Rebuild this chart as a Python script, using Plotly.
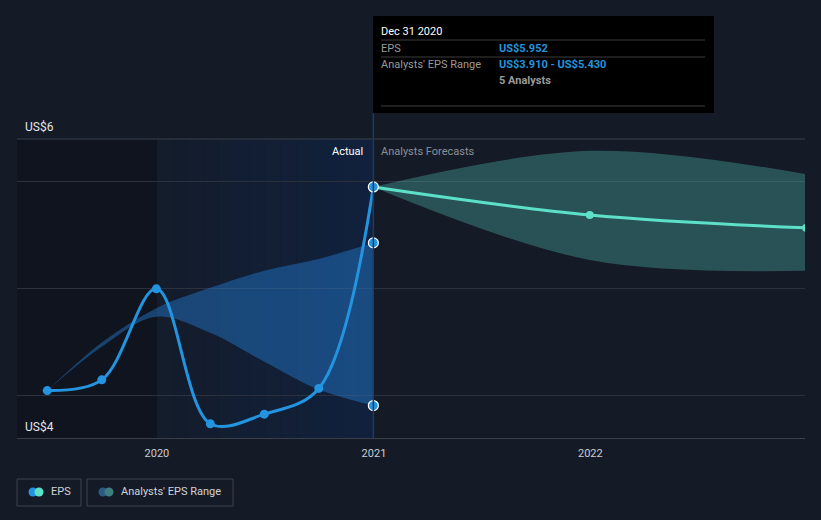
import plotly.graph_objects as go
import pandas as pd

# ---- data ----
eps_dates = ["2019-06-30", "2019-09-30", "2019-12-31", "2020-03-31", "2020-06-30", "2020-09-30", "2020-12-31"]
eps_values = [4.05, 4.15, 5.00, 3.74, 3.83, 4.07, 5.952]

fc_dates = ["2020-12-31", "2021-12-31", "2022-12-31"]
fc_eps = [5.952, 5.69, 5.57]
fc_high = [5.952, 6.29, 6.07]
fc_low = [5.952, 5.27, 5.17]

hist_range_dates = ["2019-06-30", "2019-09-30", "2019-12-31", "2020-03-31", "2020-06-30", "2020-09-30", "2020-12-31"]
hist_high = [4.05, 4.50, 4.82, 5.01, 5.17, 5.28, 5.43]
hist_low = [4.05, 4.46, 4.74, 4.59, 4.32, 4.06, 3.91]

tick_vals = ["2020-01-01", "2021-01-01", "2022-01-01"]
tick_text = ["2020", "2021", "2022"]

BG = "#151b26"
BLUE = "#2394df"
TEAL = "#5de0c8"
FONT = "Roboto"

L, R, T, B = 17, 805, 139, 438
def px(x):
    return (x - L) / (R - L)
def py(y):
    return (B - y) / (B - T)

fig = go.Figure()

# historical analysts range band
fig.add_trace(go.Scatter(x=hist_range_dates, y=hist_high, mode="lines", line=dict(width=0, shape="spline"),
                         hoverinfo="skip", showlegend=False))
fig.add_trace(go.Scatter(x=hist_range_dates, y=hist_low, mode="lines", line=dict(width=0, shape="spline"),
                         fill="tonexty", fillcolor="rgba(35,125,210,0.45)", hoverinfo="skip", showlegend=False))
# forecast band
fig.add_trace(go.Scatter(x=fc_dates, y=fc_high, mode="lines", line=dict(width=0, shape="spline"),
                         hoverinfo="skip", showlegend=False))
fig.add_trace(go.Scatter(x=fc_dates, y=fc_low, mode="lines", line=dict(width=0, shape="spline"),
                         fill="tonexty", fillcolor="rgba(88,213,201,0.30)", hoverinfo="skip", showlegend=False))

# EPS lines
fig.add_trace(go.Scatter(x=fc_dates, y=fc_eps, mode="lines+markers", line=dict(color=TEAL, width=3, shape="spline"),
                         marker=dict(size=8, color=TEAL), hoverinfo="skip", showlegend=False))
fig.add_trace(go.Scatter(x=eps_dates, y=eps_values, mode="lines+markers", line=dict(color=BLUE, width=3, shape="spline"),
                         marker=dict(size=9, color=BLUE), hoverinfo="skip", showlegend=False))
# end markers with white outline
fig.add_trace(go.Scatter(x=[eps_dates[-1], hist_range_dates[-1], hist_range_dates[-1]],
                         y=[eps_values[-1], hist_high[-1], hist_low[-1]], mode="markers",
                         marker=dict(size=10, color=BLUE, line=dict(color="white", width=1.2)),
                         hoverinfo="skip", showlegend=False))

shapes = []
# dark left region
shapes.append(dict(type="rect", xref="paper", yref="paper", x0=0, x1=px(157), y0=0, y1=1,
                   fillcolor="rgba(8,10,16,0.35)", line_width=0, layer="below"))
# highlight gradient
edges = pd.date_range("2020-01-01", "2021-01-01", periods=15)
n = len(edges) - 1
for i in range(n):
    a = 0.10 + 0.28 * (i / (n - 1))
    shapes.append(dict(type="rect", xref="x", yref="paper", x0=edges[i], x1=edges[i + 1], y0=0, y1=1,
                       fillcolor=f"rgba(10,45,100,{a:.3f})", line_width=0, layer="below"))
# top line
shapes.append(dict(type="line", xref="paper", yref="paper", x0=0, x1=1, y0=1, y1=1,
                   line=dict(color="#3a404b", width=1)))
# vertical line at current date
shapes.append(dict(type="line", xref="x", yref="paper", x0="2020-12-31", x1="2020-12-31", y0=0, y1=py(113),
                   line=dict(color="#1d3a63", width=1.5)))
# tooltip box
shapes.append(dict(type="rect", xref="paper", yref="paper", x0=px(373), x1=px(714), y0=py(113), y1=py(16),
                   fillcolor="#000000", line_width=0))
for yy in (40, 57, 106):
    shapes.append(dict(type="line", xref="paper", yref="paper", x0=px(381), x1=px(705), y0=py(yy), y1=py(yy),
                       line=dict(color="#3c3c3c", width=1)))
# legend boxes
for (x0, x1) in ((17, 81), (87, 233)):
    shapes.append(dict(type="rect", xref="paper", yref="paper", x0=px(x0), x1=px(x1), y0=py(506), y1=py(479),
                       fillcolor="rgba(0,0,0,0)", line=dict(color="#3d434e", width=1)))
# legend icons
for cx, col in ((33, BLUE), (39, TEAL), (103, "#2a5b86"), (109, "#3e7e7c")):
    r = 4.5
    shapes.append(dict(type="circle", xref="paper", yref="paper", x0=px(cx - r), x1=px(cx + r),
                       y0=py(492 + r), y1=py(492 - r), fillcolor=col, line_width=0))

annotations = []
def txt(x, y, s, color, size=11, anchor="left", bold=False):
    annotations.append(dict(xref="paper", yref="paper", x=px(x), y=py(y), text=(f"<b>{s}</b>" if bold else s),
                            showarrow=False, xanchor=anchor, yanchor="middle",
                            font=dict(family=FONT, size=size, color=color)))

txt(23, 127, "US$6", "#e6e6e6", 12)
txt(23, 427, "US$4", "#e6e6e6", 12)
txt(365, 151, "Actual", "#ffffff", 11, anchor="right")
txt(379, 151, "Analysts Forecasts", "#8a8f97", 11)
txt(379, 31, "Dec 31 2020", "#ffffff", 11)
txt(379, 48, "EPS", "#9a9a9a", 11)
txt(497, 48, "US$5.952", "#2394df", 11, bold=True)
txt(379, 65, "Analysts' EPS Range", "#9a9a9a", 11)
txt(497, 65, "US$3.910 - US$5.430", "#2394df", 11, bold=True)
txt(497, 81, "5 Analysts", "#9a9a9a", 11, bold=True)
txt(49, 492, "EPS", "#d0d3d8", 11)
txt(119, 492, "Analysts' EPS Range", "#d0d3d8", 11)

fig.update_layout(
    width=821, height=520,
    margin=dict(l=L, r=821 - R, t=T, b=520 - B),
    paper_bgcolor=BG, plot_bgcolor=BG,
    shapes=shapes, annotations=annotations,
    hovermode=False, showlegend=False,
    xaxis=dict(type="date", range=["2019-05-10", "2022-12-29"], tickvals=tick_vals, ticktext=tick_text,
               showgrid=False, zeroline=False, showline=True, linecolor="#3a404b", linewidth=1,
               ticks="outside", ticklen=5, tickcolor="rgba(0,0,0,0)",
               tickfont=dict(family=FONT, size=11, color="#c8ccd2"), fixedrange=True),
    yaxis=dict(range=[3.607, 6.40], tickvals=[4, 5, 6], showticklabels=False, showgrid=True,
               gridcolor="#2c323d", gridwidth=1, zeroline=False, fixedrange=True),
)

fig.write_html("out.html", config={"displayModeBar": False})
